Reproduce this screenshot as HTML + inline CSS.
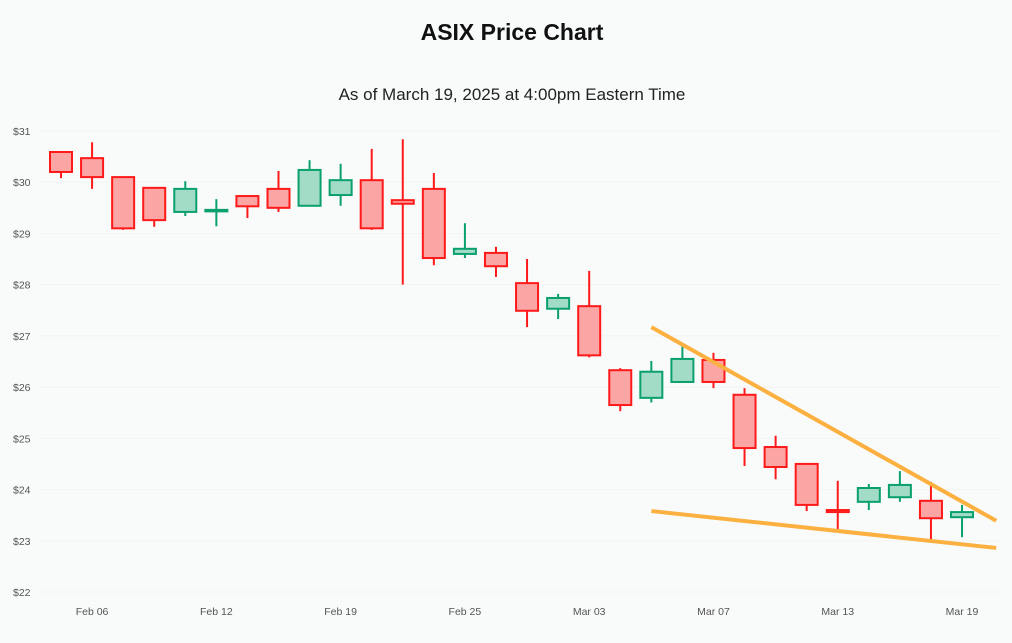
<!DOCTYPE html>
<html><head><meta charset="utf-8"><style>
body{margin:0;background:#f9fafa;font-family:"Liberation Sans",sans-serif}
</style></head><body>
<svg id="c" width="1012" height="638" xmlns="http://www.w3.org/2000/svg">
<rect width="1012" height="638" fill="#f9fafa"/>
<text x="512" y="40" text-anchor="middle" font-size="23" font-weight="bold" fill="#111">ASIX Price Chart</text>
<text x="512" y="100" text-anchor="middle" font-size="17" fill="#222">As of March 19, 2025 at 4:00pm Eastern Time</text>
<g id="grid"></g><g id="axes"></g><g id="candles"></g><g id="trend"></g>
</svg>
<script>
const dates=["Feb 05","Feb 06","Feb 07","Feb 10","Feb 11","Feb 12","Feb 13","Feb 14","Feb 18","Feb 19","Feb 20","Feb 21","Feb 24","Feb 25","Feb 26","Feb 27","Feb 28","Mar 03","Mar 04","Mar 05","Mar 06","Mar 07","Mar 10","Mar 11","Mar 12","Mar 13","Mar 14","Mar 17","Mar 18","Mar 19"];
const opens=[30.59,30.47,30.1,29.89,29.42,29.44,29.73,29.87,29.54,29.75,30.04,29.65,29.87,28.6,28.62,28.03,27.53,27.58,26.33,25.79,26.1,26.53,25.85,24.83,24.5,23.6,23.76,23.85,23.78,23.46];
const closes=[30.2,30.1,29.1,29.26,29.87,29.46,29.53,29.5,30.24,30.04,29.1,29.58,28.52,28.7,28.36,27.49,27.74,26.62,25.65,26.3,26.55,26.1,24.81,24.44,23.7,23.56,24.03,24.09,23.44,23.56];
const highs=[30.6,30.78,30.1,29.89,30.02,29.67,29.73,30.22,30.43,30.36,30.65,30.84,30.18,29.2,28.74,28.5,27.82,28.27,26.37,26.51,26.82,26.67,25.98,25.05,24.5,24.17,24.11,24.36,24.15,23.7];
const lows=[30.08,29.87,29.07,29.13,29.34,29.14,29.3,29.42,29.54,29.54,29.07,28.0,28.38,28.52,28.15,27.17,27.33,26.58,25.53,25.7,26.1,25.98,24.46,24.2,23.58,23.23,23.6,23.76,23.01,23.07];
const yTicks=[22,23,24,25,26,27,28,29,30,31];
const xTickIdx=[1,5,9,13,17,21,25,29];
const trendUpper=[[19,27.17],[30.1,23.39]];
const trendLower=[[19,23.58],[30.1,22.86]];
const NS="http://www.w3.org/2000/svg";
const x=i=>61+i*31.07;
const y=v=>131+(31-v)*51.22;
function mk(t,a,p){const e=document.createElementNS(NS,t);for(const k in a)e.setAttribute(k,a[k]);p.appendChild(e);return e;}
const grid=document.getElementById('grid'),axes=document.getElementById('axes'),cg=document.getElementById('candles'),tg=document.getElementById('trend');
yTicks.forEach(v=>{
 const l=mk('line',{x1:40,x2:1000,y1:y(v),y2:y(v),stroke:'#f2f4f4','stroke-width':1},grid);
 
 
 const t=mk('text',{x:13,y:y(v)+4,'font-size':10.5,fill:'#555'},axes);
 t.textContent='$'+v;
 
 
});
xTickIdx.forEach(i=>{
 const t=mk('text',{x:x(i),y:615,'font-size':10.5,fill:'#555','text-anchor':'middle'},axes);
 t.textContent=dates[i];
 
 
});
dates.forEach((d,i)=>{
 const up=closes[i]>=opens[i];
 const col=up?'#0aa06e':'#ff1a1a',fill=up?'#a3dcc6':'#fca5a5';
 const g=mk('g',{},cg);
 
 
 mk('line',{x1:x(i),x2:x(i),y1:y(highs[i]),y2:y(lows[i]),stroke:col,'stroke-width':2},g);
 const top=y(Math.max(opens[i],closes[i])),bot=y(Math.min(opens[i],closes[i]));
 mk('rect',{x:x(i)-11,y:top,width:22,height:Math.max(bot-top,1.5),fill:fill,stroke:col,'stroke-width':2},g);
});
[[trendUpper,'upper-trendline'],[trendLower,'lower-trendline']].forEach(([p,n])=>{
 const l=mk('line',{x1:x(p[0][0]),y1:y(p[0][1]),x2:x(p[1][0]),y2:y(p[1][1]),stroke:'#fbb040','stroke-width':4},tg);
 
 
});
</script>
</body></html>
